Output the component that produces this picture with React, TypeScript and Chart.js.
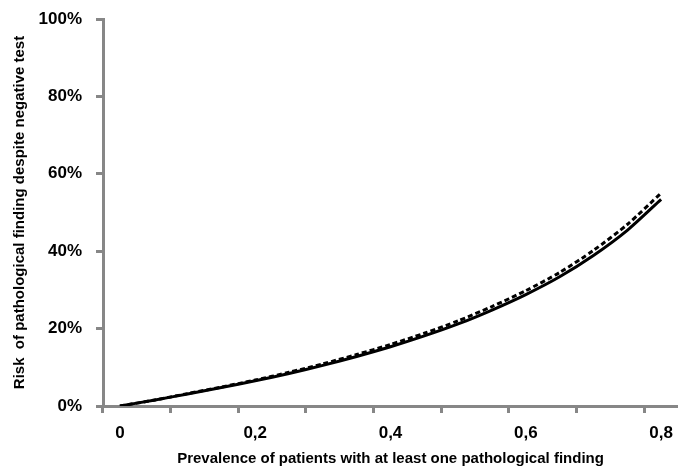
import React, { useEffect, useRef } from "react";
import { Chart, registerables } from "chart.js";

Chart.register(...registerables);

const prevalence = ["0", "0,05", "0,1", "0,15", "0,2", "0,25", "0,3", "0,35", "0,4", "0,45", "0,5", "0,55", "0,6", "0,65", "0,7", "0,75", "0,8"];
const riskSolid = [0, 1.5, 3.1, 4.8, 6.5, 8.4, 10.5, 12.8, 15.3, 18.1, 21.2, 24.8, 28.8, 33.4, 38.9, 45.4, 53.4];
const riskDashed = [0, 1.5, 3.2, 4.9, 6.7, 8.7, 10.9, 13.3, 15.9, 18.8, 22.0, 25.7, 29.8, 34.5, 40.2, 46.9, 55.0];
const yTicks = [0, 20, 40, 60, 80, 100];

const AXIS = "#878787";
const FONT = "'Liberation Sans', Arial, sans-serif";

export default function App() {
  const ref = useRef<HTMLCanvasElement | null>(null);
  useEffect(() => {
    if (!ref.current) return;
    const chart = new Chart(ref.current, {
      type: "line",
      data: {
        labels: prevalence,
        datasets: [
          {
            data: riskSolid,
            borderColor: "#000",
            borderWidth: 3,
            pointRadius: 0,
            tension: 0.25,
            fill: false,
          },
          {
            data: riskDashed,
            borderColor: "#000",
            borderWidth: 3,
            borderDash: [5, 3],
            pointRadius: 0,
            tension: 0.25,
            fill: false,
          },
        ],
      },
      options: {
        animation: false,
        responsive: false,
        layout: { padding: { top: 19, right: 0, left: 11, bottom: 0 } },
        plugins: { legend: { display: false }, tooltip: { enabled: false } },
        scales: {
          x: {
            type: "category",
            offset: true,
            grid: {
              offset: true,
              drawOnChartArea: false,
              tickLength: 7,
              lineWidth: 3,
              tickColor: (ctx: any) => (ctx.index % 2 === 0 ? AXIS : "rgba(0,0,0,0)"),
            },
            border: { color: AXIS, width: 3 },
            ticks: {
              autoSkip: false,
              maxRotation: 0,
              color: "#000",
              padding: 10,
              font: { family: FONT, size: 17, weight: "bold" },
              callback: (_v: any, i: number) => (i % 4 === 0 ? prevalence[i] : ""),
            },
            title: {
              display: true,
              text: "Prevalence of patients with at least one pathological finding",
              color: "#000",
              font: { family: FONT, size: 15, weight: "bold" },
              padding: { top: 3, bottom: 0 },
            },
            afterFit: (s: any) => {
              s.height = 62;
              s.paddingLeft = 0;
              s.paddingRight = 0;
            },
          },
          y: {
            min: 0,
            max: 100,
            afterBuildTicks: (s: any) => {
              s.ticks = yTicks.map((v) => ({ value: v }));
            },
            grid: { drawOnChartArea: false, tickLength: 7, lineWidth: 3, color: AXIS },
            border: { color: AXIS, width: 3 },
            ticks: {
              color: "#000",
              padding: 14,
              font: { family: FONT, size: 17, weight: "bold" },
              callback: (v: any) => v + "%",
            },
            title: {
              display: true,
              text: "Risk  of pathological finding despite negative test",
              color: "#000",
              font: { family: FONT, size: 15, weight: "bold" },
              padding: { top: 0, bottom: 0 },
            },
            afterFit: (s: any) => {
              s.width = 92;
              s.paddingTop = 0;
              s.paddingBottom = 0;
            },
          },
        },
      },
    });
    return () => chart.destroy();
  }, []);
  return (
    <div style={{ position: "fixed", left: 0, top: 0, width: 678, height: 468, background: "#fff" }}>
      <canvas ref={ref} width={678} height={468} style={{ width: 678, height: 468 }} />
    </div>
  );
}
